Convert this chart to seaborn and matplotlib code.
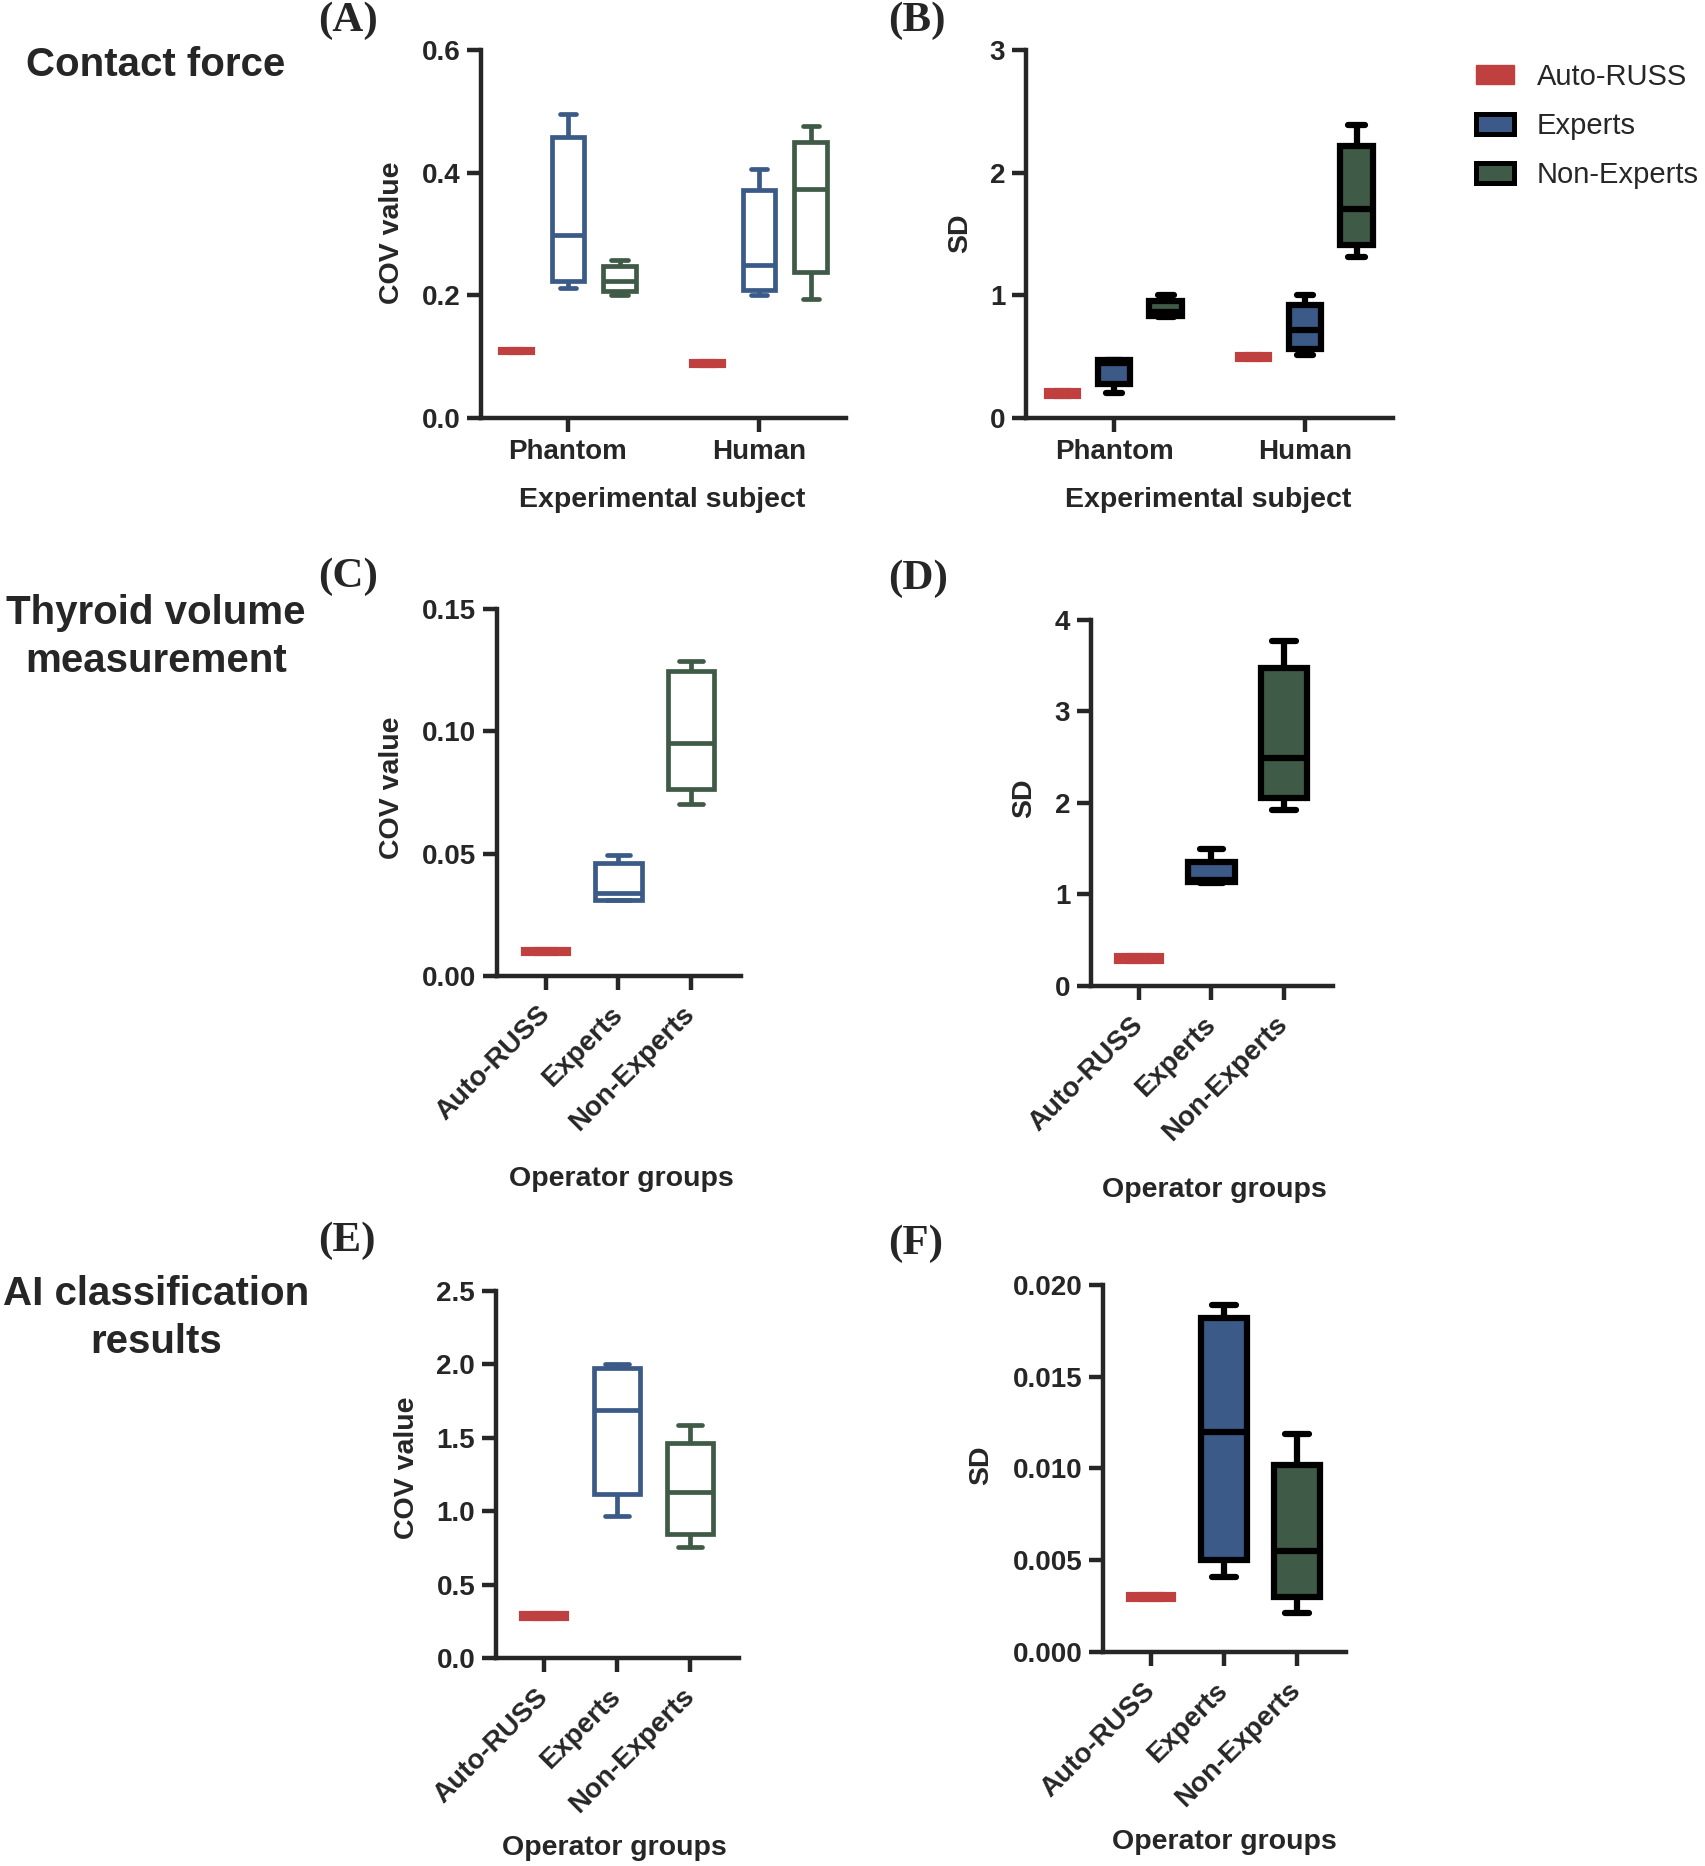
import pandas as pd
import seaborn as sns
import matplotlib.pyplot as plt
from matplotlib.patches import Patch

groups = ["Auto-RUSS", "Experts", "Non-Experts"]
subjects = ["Phantom", "Human"]
red, blue, green = "#C0403F", "#3B5A88", "#3F5A46"
group_colors = dict(zip(groups, [red, blue, green]))

# every list is min, Q1, median, Q3, max as read off the figure
# (A) contact force COV, Phantom then Human
force_cov_auto = [[0.106, 0.106, 0.109, 0.113, 0.113], [0.085, 0.085, 0.089, 0.093, 0.093]]
force_cov_experts = [[0.212, 0.224, 0.299, 0.458, 0.496], [0.201, 0.208, 0.249, 0.372, 0.406]]
force_cov_nonexp = [[0.201, 0.207, 0.224, 0.248, 0.257], [0.194, 0.238, 0.374, 0.450, 0.476]]

# (B) contact force SD
force_sd_auto = [[0.175, 0.175, 0.20, 0.225, 0.225], [0.475, 0.475, 0.50, 0.525, 0.525]]
force_sd_experts = [[0.20, 0.28, 0.45, 0.47, 0.47], [0.51, 0.56, 0.72, 0.92, 1.00]]
force_sd_nonexp = [[0.82, 0.83, 0.86, 0.95, 1.00], [1.31, 1.41, 1.70, 2.22, 2.39]]

# (C) thyroid volume COV, Auto-RUSS / Experts / Non-Experts
volume_cov = [[0.0088, 0.0088, 0.0100, 0.0112, 0.0112],
              [0.0310, 0.0312, 0.0337, 0.0462, 0.0496],
              [0.0704, 0.0764, 0.0951, 0.1248, 0.1289]]
# (D) thyroid volume SD
volume_sd = [[0.265, 0.265, 0.30, 0.335, 0.335],
             [1.12, 1.13, 1.16, 1.35, 1.49],
             [1.92, 2.05, 2.49, 3.47, 3.77]]
# (E) AI classification COV
ai_cov = [[0.266, 0.266, 0.287, 0.308, 0.308],
          [0.966, 1.116, 1.692, 1.972, 2.000],
          [0.755, 0.842, 1.127, 1.466, 1.588]]
# (F) AI classification SD
ai_sd = [[0.00283, 0.00283, 0.00300, 0.00317, 0.00317],
         [0.0041, 0.0050, 0.0120, 0.0182, 0.0189],
         [0.0021, 0.0030, 0.0055, 0.0102, 0.0119]]


def subject_table(auto, experts, nonexp):
    rows = []
    for g, per_subject in zip(groups, [auto, experts, nonexp]):
        for s, vals in zip(subjects, per_subject):
            rows += [{"group": g, "subject": s, "value": v} for v in vals]
    return pd.DataFrame(rows)


def group_table(per_group):
    rows = []
    for g, vals in zip(groups, per_group):
        rows += [{"group": g, "value": v} for v in vals]
    return pd.DataFrame(rows)


def draw_boxes(ax, df, x, order, filled, width, gap=0.0, dodge=False):
    # one call per group so each can get its own fill / outline colour
    for g in groups:
        if g == "Auto-RUSS":
            face, edge, lw = red, red, 3
        elif filled:
            face, edge, lw = group_colors[g], "black", 4.5
        else:
            face, edge, lw = "white", group_colors[g], 3.4
        sns.boxplot(data=df[df["group"] == g], x=x, y="value", hue="group",
                    hue_order=groups, order=order, palette={k: face for k in groups},
                    dodge=dodge, width=width, gap=gap, whis=(0, 100), linecolor=edge,
                    linewidth=lw, saturation=1, legend=False, ax=ax)


def style(ax, ylim, yticks, xlim, xlabel, ylabel, xl_pos, yl_pos, rotate=False):
    ax.set_xlim(*xlim)
    ax.set_ylim(*ylim)
    ax.set_yticks(yticks)
    sns.despine(ax=ax)
    for sp in ["left", "bottom"]:
        ax.spines[sp].set_linewidth(3.2)
    ax.tick_params(width=3.2, length=10, labelsize=20, pad=5)
    if rotate:
        ax.tick_params(axis="x", pad=15)
        for lab in ax.get_xticklabels():
            lab.set_rotation(45)
            lab.set_ha("right")
            lab.set_va("center")
            lab.set_rotation_mode("anchor")
    ax.set_xlabel(xlabel, fontsize=20.5, va="center")
    ax.set_ylabel(ylabel, fontsize=20.5, va="center")
    ax.xaxis.set_label_coords(*xl_pos)
    ax.yaxis.set_label_coords(*yl_pos)


sns.set_style("ticks")
plt.rcParams["font.family"] = ["Liberation Sans", "DejaVu Sans"]
plt.rcParams["font.weight"] = "bold"
plt.rcParams["axes.labelweight"] = "bold"

fig = plt.figure(figsize=(17.05, 18.66), dpi=100)

# (A)
ax = fig.add_axes([0.2821, 0.7760, 0.2141, 0.1972])
draw_boxes(ax, subject_table(force_cov_auto, force_cov_experts, force_cov_nonexp),
           "subject", subjects, False, 0.81, gap=0.37, dodge=True)
style(ax, (0, 0.6), [0, 0.2, 0.4, 0.6], (-0.455, 1.455), "Experimental subject", "COV value",
      (0.496, -0.223), (-0.244, 0.503))

# (B)
ax = fig.add_axes([0.6018, 0.7760, 0.2152, 0.1972])
draw_boxes(ax, subject_table(force_sd_auto, force_sd_experts, force_sd_nonexp),
           "subject", subjects, True, 0.81, gap=0.37, dodge=True)
style(ax, (0, 3), [0, 1, 2, 3], (-0.461, 1.461), "Experimental subject", "SD",
      (0.496, -0.223), (-0.18, 0.503))

# (C)
ax = fig.add_axes([0.2915, 0.4770, 0.1431, 0.1967])
draw_boxes(ax, group_table(volume_cov), "group", groups, False, 0.64)
style(ax, (0, 0.15), [0, 0.05, 0.10, 0.15], (-0.676, 2.69), "Operator groups", "COV value",
      (0.508, -0.552), (-0.43, 0.512), rotate=True)

# (D)
ax = fig.add_axes([0.6399, 0.4716, 0.1419, 0.1964])
draw_boxes(ax, group_table(volume_sd), "group", groups, True, 0.64)
style(ax, (0, 4), [0, 1, 2, 3, 4], (-0.662, 2.676), "Operator groups", "SD",
      (0.508, -0.556), (-0.277, 0.513), rotate=True)

# (E)
ax = fig.add_axes([0.2909, 0.1115, 0.1425, 0.1967])
draw_boxes(ax, group_table(ai_cov), "group", groups, False, 0.64)
style(ax, (0, 2.5), [0, 0.5, 1.0, 1.5, 2.0, 2.5], (-0.66, 2.67), "Operator groups", "COV value",
      (0.486, -0.517), (-0.366, 0.518), rotate=True)

# (F)
ax = fig.add_axes([0.6469, 0.1147, 0.1425, 0.1967])
draw_boxes(ax, group_table(ai_sd), "group", groups, True, 0.64)
style(ax, (0, 0.02), [0, 0.005, 0.010, 0.015, 0.020], (-0.658, 2.671), "Operator groups", "SD",
      (0.498, -0.517), (-0.502, 0.51), rotate=True)

# row titles and panel letters
for txt, y in [("Contact force", 0.9652), ("Thyroid volume\nmeasurement", 0.6587),
               ("AI classification\nresults", 0.2938)]:
    fig.text(0.0915, y, txt, fontsize=29, ha="center", va="center", linespacing=1.33)

for lab, x, y in [("(A)", 0.2041, 0.9887), ("(B)", 0.5378, 0.9887), ("(C)", 0.2041, 0.6908),
                  ("(D)", 0.5384, 0.6897), ("(E)", 0.2035, 0.3349), ("(F)", 0.5372, 0.3333)]:
    fig.text(x, y, lab, fontsize=31, ha="center", va="center",
             family=["Liberation Serif", "DejaVu Serif"], weight="bold")

handles = [Patch(facecolor=red, edgecolor=red, linewidth=1),
           Patch(facecolor=blue, edgecolor="black", linewidth=3.6),
           Patch(facecolor=green, edgecolor="black", linewidth=3.6)]
fig.legend(handles, groups, loc="upper left", bbox_to_anchor=(0.8657, 0.9663),
           frameon=False, borderpad=0, borderaxespad=0, handlelength=1.3,
           handleheight=0.65, handletextpad=0.79, labelspacing=0.725,
           prop={"size": 21, "weight": "normal"})

fig.savefig("out.png", dpi=100)
